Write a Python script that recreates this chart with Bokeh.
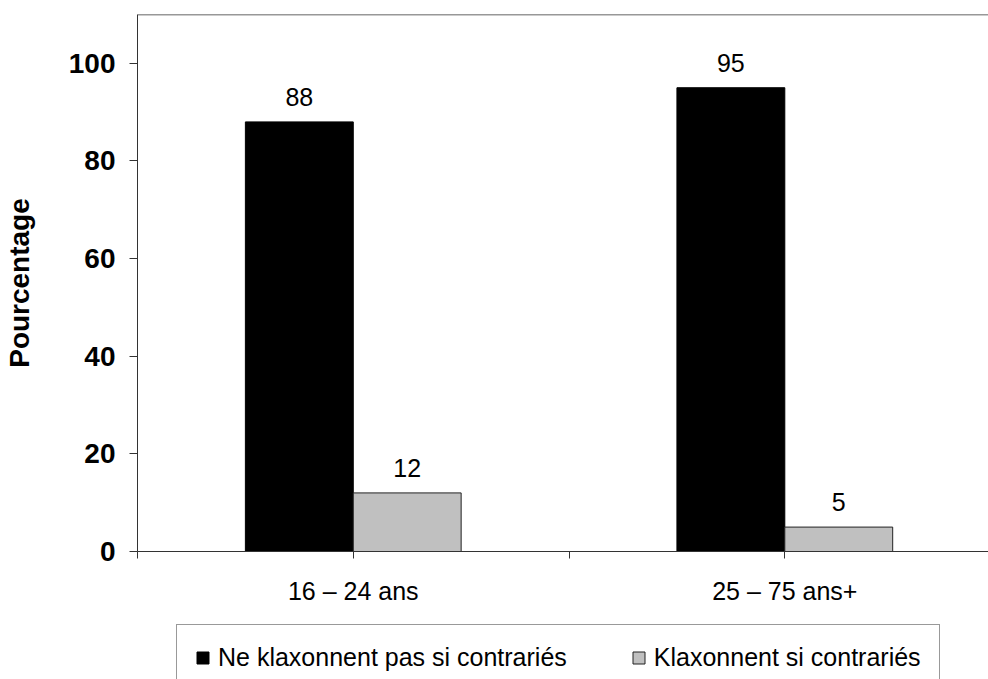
from bokeh.plotting import figure
from bokeh.layouts import column
from bokeh.models import ColumnDataSource, Range1d, FixedTicker, Span, Legend, LegendItem
from bokeh.transform import dodge
from bokeh.core.properties import value
from bokeh.embed import file_html
from bokeh.resources import INLINE

# ---- data ----
categories = ["16 – 24 ans", "25 – 75 ans+"]
series_names = ["Ne klaxonnent pas si contrariés", "Klaxonnent si contrariés"]
series_colors = ["#000000", "#C0C0C0"]
ne_klaxonnent = [88, 95]
klaxonnent = [12, 5]
y_ticks = [0, 20, 40, 60, 80, 100]
y_title = "Pourcentage"

FONT = "Liberation Sans"

xc = [i + 0.5 for i in range(len(categories))]
src = ColumnDataSource(dict(
    xc=xc,
    a=ne_klaxonnent,
    b=klaxonnent,
    a_txt=[str(v) for v in ne_klaxonnent],
    b_txt=[str(v) for v in klaxonnent],
))

x_range = Range1d(0, 1.972)
p = figure(width=988, height=621, output_backend="svg", toolbar_location=None,
           x_range=x_range, y_range=Range1d(0, 110),
           min_border_left=136, min_border_top=14, min_border_right=0, min_border_bottom=70)
p.background_fill_color = "white"
p.border_fill_color = "white"
p.outline_line_color = None
p.xgrid.visible = False
p.ygrid.visible = False

bw = 0.25
line_cols = ["#000000", "#222222"]
r1 = p.vbar(x=dodge("xc", -bw / 2, range=x_range), top="a", width=bw, source=src,
            fill_color=series_colors[0], line_color=line_cols[0], line_width=1)
r2 = p.vbar(x=dodge("xc", bw / 2, range=x_range), top="b", width=bw, source=src,
            fill_color=series_colors[1], line_color=line_cols[1], line_width=1)

for col, txt, off in (("a", "a_txt", -bw / 2), ("b", "b_txt", bw / 2)):
    p.text(x=dodge("xc", off, range=x_range), y=col, text=txt, source=src,
           text_font=value(FONT), text_font_size="25px", text_color="black",
           text_align="center", text_baseline="alphabetic", y_offset=-25)

# top border line
p.add_layout(Span(location=110, dimension="width", line_color="#333333", line_width=1.5))

# y axis
ya = p.yaxis[0]
ya.ticker = FixedTicker(ticks=y_ticks)
ya.axis_label = y_title
ya.axis_label_text_font = FONT
ya.axis_label_text_font_size = "28px"
ya.axis_label_text_font_style = "bold"
ya.axis_label_text_color = "black"
ya.axis_label_standoff = 31
ya.major_label_text_font = FONT
ya.major_label_text_font_size = "28px"
ya.major_label_text_font_style = "bold"
ya.major_label_text_color = "black"
ya.major_label_standoff = 14
ya.major_tick_out = 8
ya.major_tick_in = 0
ya.minor_tick_out = 0
ya.minor_tick_in = 0
ya.axis_line_color = "#333333"
ya.major_tick_line_color = "#333333"

# x axis
xa = p.xaxis[0]
ticks = [0, 0.5, 1, 1.5, 2]
overrides = {t: "" for t in ticks}
for c, cx in zip(categories, xc):
    overrides[cx] = c
xa.ticker = FixedTicker(ticks=ticks)
xa.major_label_overrides = overrides
xa.major_label_text_font = FONT
xa.major_label_text_font_size = "25px"
xa.major_label_text_color = "black"
xa.major_label_standoff = 18
xa.major_tick_out = 7
xa.major_tick_in = 0
xa.minor_tick_out = 0
xa.minor_tick_in = 0
xa.axis_line_color = "#333333"
xa.major_tick_line_color = "#333333"

# ---- legend strip: same series (bars fall outside this strip's y range) ----
p2 = figure(width=988, height=58, output_backend="svg", toolbar_location=None,
            x_range=x_range, y_range=Range1d(1000, 1001),
            x_axis_type=None, y_axis_type=None,
            min_border_left=136, min_border_right=0, min_border_top=0, min_border_bottom=0)
p2.outline_line_color = None
p2.xgrid.visible = False
p2.ygrid.visible = False
p2.background_fill_color = "white"
p2.border_fill_color = "white"
g1 = p2.vbar(x=dodge("xc", -bw / 2, range=x_range), top="a", width=bw, source=src,
             fill_color=series_colors[0], line_color=line_cols[0], line_width=1)
g2 = p2.vbar(x=dodge("xc", bw / 2, range=x_range), top="b", width=bw, source=src,
             fill_color=series_colors[1], line_color=line_cols[1], line_width=1)

legend = Legend(items=[LegendItem(label=series_names[0], renderers=[g1]),
                       LegendItem(label=series_names[1], renderers=[g2])],
                orientation="horizontal", location=(39, -12),
                glyph_width=15, glyph_height=15, label_standoff=8, spacing=64,
                padding=18, margin=0,
                label_text_font=FONT, label_text_font_size="25px", label_text_color="black",
                border_line_color="#333333", border_line_width=1,
                background_fill_color="white", background_fill_alpha=1)
p2.add_layout(legend)

layout = column(p, p2, spacing=0)
open("out.html", "w").write(file_html(layout, INLINE))
